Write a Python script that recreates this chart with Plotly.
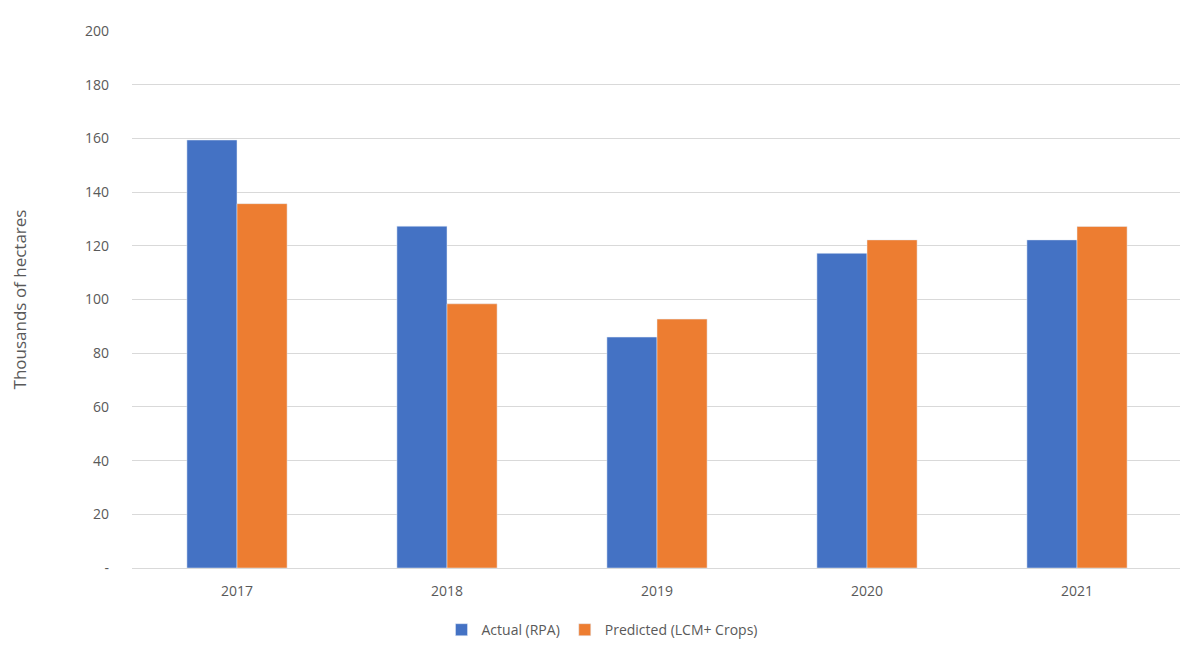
import plotly.graph_objects as go

years = ["2017", "2018", "2019", "2020", "2021"]
actual_rpa = [159.4, 127.3, 86.0, 117.2, 122.2]
predicted_lcm = [135.7, 98.4, 92.7, 122.2, 127.2]

y_ticks = [0, 20, 40, 60, 80, 100, 120, 140, 160, 180, 200]
y_ticktext = ["-"] + [str(v) for v in y_ticks[1:]]

fig = go.Figure()

fig.add_trace(go.Bar(
    x=years,
    y=actual_rpa,
    name="Actual (RPA)",
    marker=dict(color="#4472C4")
))

fig.add_trace(go.Bar(
    x=years,
    y=predicted_lcm,
    name="Predicted (LCM+ Crops)",
    marker=dict(color="#ED7D31")
))

fig.update_layout(
    width=1188,
    height=646,
    barmode="group",
    bargap=0.523,
    bargroupgap=0,
    plot_bgcolor="white",
    paper_bgcolor="white",
    font=dict(family="Open Sans, Lato, sans-serif", size=14, color="#595959"),
    margin=dict(l=124, r=14, t=23, b=86),
    legend=dict(
        orientation="h",
        xref="container",
        x=0.5, xanchor="center",
        yref="container",
        y=0.037, yanchor="middle",
        font=dict(size=14, color="#595959"),
        traceorder="normal",
        itemwidth=30
    ),
    xaxis=dict(
        showgrid=False,
        showline=True,
        linecolor="#D9D9D9",
        linewidth=1,
        ticks="",
        ticklabelstandoff=10,
        automargin=False,
        tickfont=dict(size=14, color="#595959")
    ),
    yaxis=dict(
        range=[0, 200],
        tickvals=y_ticks,
        ticktext=y_ticktext,
        showgrid=True,
        gridcolor="#D9D9D9",
        gridwidth=1,
        zeroline=False,
        ticks="",
        ticklabelstandoff=22,
        automargin=False,
        tickfont=dict(size=14, color="#595959"),
        title=dict(text="Thousands of hectares", standoff=56,
                   font=dict(size=17, color="#595959"))
    )
)

fig.write_html("out.html")
